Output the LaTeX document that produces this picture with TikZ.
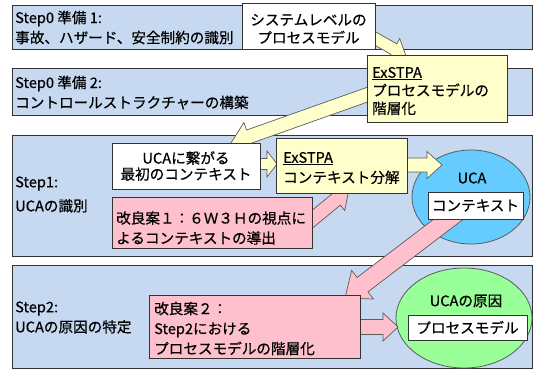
\documentclass[tikz,border=0pt]{standalone}
\usepackage{fontspec}
\newfontfamily\jp[FakeBold=0.5]{Noto Sans CJK JP}
\usetikzlibrary{calc}
\definecolor{bandblue}{HTML}{C6D9F1}
\definecolor{boxyellow}{HTML}{FFFFCC}
\definecolor{boxpink}{HTML}{FFC0CE}
\definecolor{ellblue}{HTML}{66CCFF}
\definecolor{ellgreen}{HTML}{99FF99}
\definecolor{edge}{HTML}{333333}
\newcommand\blockarr[6]{%
  \coordinate (ba-h) at ($(#2)!#5!(#1)$);
  \filldraw[#6] ($(#1)!#3!90:(#2)$) -- ($(ba-h)!#3!90:(#2)$) -- ($(ba-h)!#4!90:(#2)$) -- (#2)
    -- ($(ba-h)!#4!-90:(#2)$) -- ($(ba-h)!#3!-90:(#2)$) -- ($(#1)!#3!-90:(#2)$) -- cycle;
}
\begin{document}
\begin{tikzpicture}[x=1pt,y=-1pt,
  every node/.style={font=\jp\fontsize{14.6}{20}\selectfont, text=black},
  band/.style={draw=edge, fill=bandblue, line width=0.8pt},
  bandlabel/.style={anchor=west, align=left, inner sep=0pt},
  box/.style={draw=edge, line width=0.8pt, inner sep=0pt, rectangle},
  ellbox/.style={draw=edge!80, line width=0.8pt},
  yarr/.style={draw=edge!80, fill=boxyellow, line width=0.7pt},
  parr/.style={draw=edge!80, fill=boxpink, line width=0.7pt}]
\useasboundingbox (0,0) rectangle (535,370);
% bands
\draw[band] (12,5) rectangle (532,49);
\draw[band] (12,68) rectangle (532,115);
\draw[band] (12,135) rectangle (532,256);
\draw[band] (12,265) rectangle (532,368);
\node[bandlabel] (l1) at (15,27.5) {Step0 準備 1:\\事故、ハザード、安全制約の識別};
\node[bandlabel] (l2) at (15,92.5) {Step0 準備 2:\\コントロールストラクチャーの構築};
\node[bandlabel, font=\jp\fontsize{14.6}{24}\selectfont] (l3) at (15,194.5) {Step1:\\UCAの識別};
\node[bandlabel] (l4) at (15,317.5) {Step2:\\UCAの原因の特定};
% ellipses
\draw[ellbox, fill=ellblue] (471,197) ellipse [x radius=59, y radius=47];
\node (ucat) at (472,178) {UCA};
\draw[ellbox, fill=ellgreen] (464,318) ellipse [x radius=68, y radius=50];
\node (causet) at (466,301) {UCAの原因};
% named arrow ends
\coordinate (a1s) at (362,31);  \coordinate (a1e) at (406,56);
\coordinate (a2s) at (372,93);  \coordinate (a2e) at (231,143);
\coordinate (a3s) at (255,164); \coordinate (a3e) at (277,164);
\coordinate (a4s) at (404,165); \coordinate (a4e) at (442,165);
\coordinate (a5s) at (304,226); \coordinate (a5e) at (349,189);
\coordinate (a6s) at (458,212); \coordinate (a6e) at (345,298);
\coordinate (a7s) at (356,327); \coordinate (a7e) at (398,327);
\blockarr{a1s}{a1e}{6pt}{12pt}{14pt}{yarr}
\blockarr{a2s}{a2e}{7pt}{15pt}{19pt}{yarr}
\blockarr{a3s}{a3e}{5.5pt}{13pt}{10pt}{yarr}
\blockarr{a4s}{a4e}{7pt}{13.5pt}{15pt}{yarr}
\blockarr{a5s}{a5e}{7pt}{14pt}{17pt}{parr}
\blockarr{a6s}{a6e}{9pt}{18pt}{22pt}{parr}
\blockarr{a7s}{a7e}{7.5pt}{14pt}{15pt}{parr}
% boxes
\node[box, fill=white, minimum width=133pt, minimum height=46pt] (sys) at (308.5,26) {};
\node[align=center, inner sep=0pt, font=\jp\fontsize{14.6}{18}\selectfont] (syst) at (308.5,29) {システムレベルの\\プロセスモデル};
\node[box, fill=boxyellow, minimum width=140pt, minimum height=67pt] (ex1) at (437,88.5) {};
\node[anchor=west, align=left, inner sep=0pt, font=\jp\fontsize{14.6}{18}\selectfont] (ex1t) at (372,91) {\underline{ExSTPA}\\プロセスモデルの\\階層化};
\node[box, fill=white, minimum width=148pt, minimum height=46pt, align=center, font=\jp\fontsize{14.6}{16}\selectfont] (uca1) at (186,166) {UCAに繋がる\\最初のコンテキスト};
\node[box, fill=boxyellow, minimum width=131pt, minimum height=55pt] (ex2) at (341.5,165.5) {};
\node[anchor=west, align=left, inner sep=0pt] (ex2t) at (283,168) {\underline{ExSTPA}\\コンテキスト分解};
\node[box, fill=boxpink, minimum width=200pt, minimum height=51pt] (kai1) at (212,222.5) {};
\node[anchor=west, align=left, inner sep=0pt] (kai1t) at (116,228) {改良案１：６Ｗ３Ｈの視点に\\よるコンテキストの導出};
\node[box, fill=white, minimum width=95pt, minimum height=27pt] (ctx) at (475.5,205.5) {コンテキスト};
\node[box, fill=boxpink, minimum width=211pt, minimum height=63pt] (kai2) at (254.5,326.5) {};
\node[anchor=west, align=left, inner sep=0pt] (kai2t) at (154,328.5) {改良案２：\\Step2における\\プロセスモデルの階層化};
\node[box, fill=white, minimum width=119pt, minimum height=25pt] (pm) at (467.5,327.5) {プロセスモデル};
\end{tikzpicture}
\end{document}
